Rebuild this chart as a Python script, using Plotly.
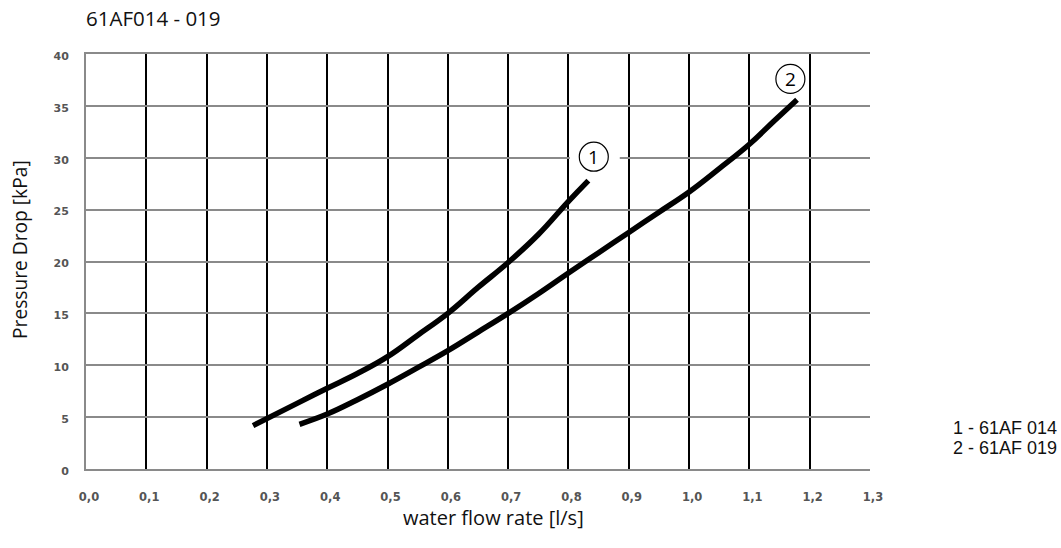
import plotly.graph_objects as go

# ---- data ----
flow_1 = [0.277, 0.35, 0.40, 0.45, 0.50, 0.55, 0.60, 0.65, 0.70, 0.75, 0.80, 0.833]
drop_1 = [4.18, 6.33, 7.78, 9.2, 10.83, 12.9, 15.0, 17.5, 19.9, 22.6, 25.8, 27.8]

flow_2 = [0.354, 0.40, 0.45, 0.50, 0.55, 0.60, 0.65, 0.70, 0.75, 0.80, 0.85, 0.90, 0.95, 1.00, 1.05, 1.10, 1.14, 1.179]
drop_2 = [4.31, 5.30, 6.68, 8.17, 9.77, 11.41, 13.2, 15.0, 16.9, 18.9, 20.85, 22.8, 24.75, 26.7, 28.95, 31.3, 33.5, 35.6]

x_ticks = [round(0.1 * i, 1) for i in range(14)]
y_ticks = [0, 5, 10, 15, 20, 25, 30, 35, 40]

curve_labels = ["1", "2"]
label_x = [0.842, 1.168]
label_y = [30.1, 37.6]

title_text = "61AF014 - 019"
x_title = "water flow rate [l/s]"
y_title = "Pressure Drop [kPa]"
legend_lines = ["1 - 61AF 014", "2 - 61AF 019"]

FONT = "Open Sans"
GRID_GREY = "#8a8a8a"

fig = go.Figure()
for fx, fy in [(flow_1, drop_1), (flow_2, drop_2)]:
    fig.add_trace(go.Scatter(
        x=fx, y=fy, mode="lines",
        line=dict(color="black", width=5.5, shape="spline", smoothing=1.2),
        showlegend=False, hoverinfo="skip",
    ))

shapes = []
# white gap in gridline behind label 1
shapes.append(dict(type="rect", xref="x", yref="y", xsizemode="pixel", ysizemode="pixel",
                   xanchor=label_x[0], yanchor=label_y[0], x0=-24, x1=26, y0=-4, y1=4,
                   fillcolor="white", line=dict(width=0), layer="above"))
for lx, ly in zip(label_x, label_y):
    shapes.append(dict(type="circle", xref="x", yref="y", xsizemode="pixel", ysizemode="pixel",
                       xanchor=lx, yanchor=ly, x0=-14.5, x1=14.5, y0=-14.5, y1=14.5,
                       fillcolor="white", line=dict(color="black", width=1.2), layer="above"))

annotations = []
for t, lx, ly in zip(curve_labels, label_x, label_y):
    annotations.append(dict(x=lx, y=ly, xref="x", yref="y", text=t, showarrow=False,
                            font=dict(family=FONT, size=19, color="black")))
annotations.append(dict(x=84, y=548 - 17.5, text=title_text,
                        showarrow=False, xanchor="left", yanchor="middle",
                        font=dict(family=FONT, size=20.5, color="#111")))
annotations.append(dict(x=493, y=548 - 517, text=x_title, showarrow=False,
                        xanchor="center", yanchor="middle",
                        font=dict(family=FONT, size=20, color="#111")))
annotations.append(dict(x=19, y=548 - 250, text=y_title, showarrow=False, textangle=-90,
                        xanchor="center", yanchor="middle",
                        font=dict(family=FONT, size=19.2, color="#111")))
for i, t in enumerate(legend_lines):
    annotations.append(dict(x=1059, y=548 - (427.5 + 20.3 * i), text=t, showarrow=False,
                            xanchor="right", yanchor="middle",
                            font=dict(family="Liberation Sans", size=18, color="#111")))

# convert pixel-placed annotations to paper coords
W, H = 1061, 548
L, R, T, B = 86, 191, 54, 79
pw, ph = W - L - R, H - T - B
for a in annotations:
    if a.get("xref") == "x":
        continue
    a["xref"] = "paper"
    a["yref"] = "paper"
    a["x"] = (a["x"] - L) / pw
    a["y"] = (a["y"] - B) / ph

fig.update_layout(
    width=W, height=H,
    margin=dict(l=L, r=R, t=T, b=B, pad=0),
    paper_bgcolor="white", plot_bgcolor="white",
    separators=",.",
    font=dict(family=FONT),
    shapes=shapes, annotations=annotations,
    xaxis=dict(range=[0, 1.3], tickvals=x_ticks, tickformat=".1f",
               showgrid=True, gridcolor="black", gridwidth=1.6,
               zeroline=False, showline=True, linecolor=GRID_GREY, linewidth=2, mirror=True,
               ticks="", ticklabelstandoff=16, ticklabelshift=3,
               tickfont=dict(family="DejaVu Sans", size=11.5, color="#555", weight="bold")),
    yaxis=dict(range=[0, 40], tickvals=y_ticks,
               showgrid=True, gridcolor=GRID_GREY, gridwidth=2,
               zeroline=False, showline=True, linecolor=GRID_GREY, linewidth=2,
               ticks="", ticklabelstandoff=13, ticklabelshift=2,
               tickfont=dict(family="DejaVu Sans", size=11, color="#555", weight="bold")),
)

fig.write_html("out.html", config={"displayModeBar": False},
               post_script="document.body.style.margin='0';")
